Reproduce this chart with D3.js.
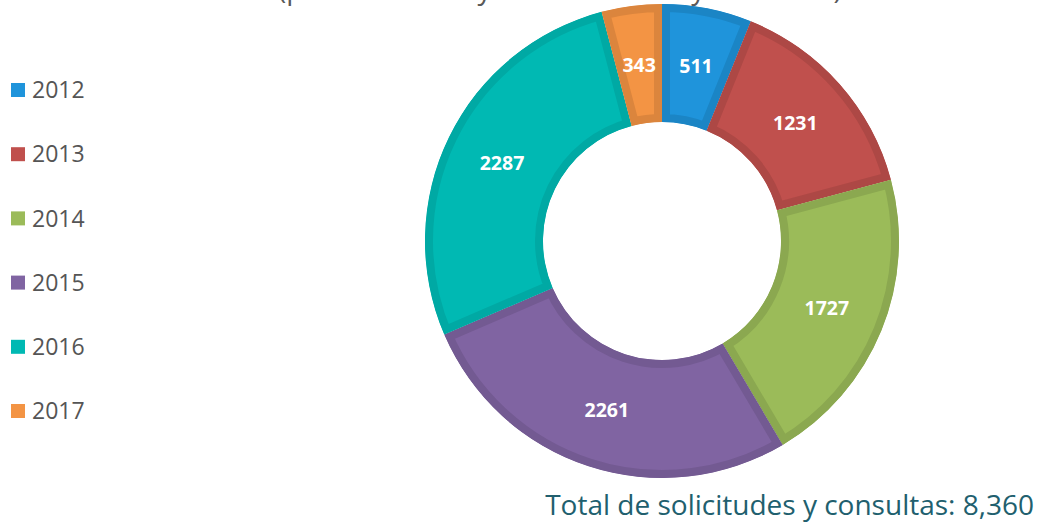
<!DOCTYPE html>
<html>
<head>
<meta charset="utf-8">
<script src="https://cdn.jsdelivr.net/npm/d3@7"></script>
<style>
  body { margin: 0; background: #fff; }
  svg { display: block; font-family: "Open Sans", "Noto Sans", sans-serif; }
</style>
</head>
<body>
<svg id="chart" width="1042" height="526"></svg>
<script>
// datos del grafico
var years = ['2012', '2013', '2014', '2015', '2016', '2017'];
var values = [511, 1231, 1727, 2261, 2287, 343];
var fills = ['#1F94DB', '#C0504D', '#9BBB59', '#8064A2', '#00B9B3', '#F39444'];
var edges = ['#1B85C5', '#AD4845', '#8BA850', '#735A92', '#00A9A4', '#DB853D'];
var title = '(período de mayo de 2012 a mayo de 2017)';
var totalLabel = 'Total de solicitudes y consultas: 8,360';

var svg = d3.select('#chart');
var cx = 662, cy = 241;
var outerR = 237, innerR = 119;

// titulo cortado arriba, como en el original
svg.append('text')
    .attr('x', 560)
    .attr('y', -1)
    .attr('text-anchor', 'middle')
    .style('font-size', '28px')
    .style('fill', '#595959')
    .text(title);

var pie = d3.pie().sort(null).value(function (d) { return d.value; });
var arc = d3.arc().innerRadius(innerR).outerRadius(outerR);

var data = years.map(function (y, i) {
    return { year: y, value: values[i], fill: fills[i], edge: edges[i] };
});
var arcs = pie(data);

var defs = svg.append('defs');
defs.selectAll('clipPath')
    .data(arcs)
    .enter().append('clipPath')
    .attr('id', function (d, i) { return 'clip' + i; })
    .append('path')
    .attr('d', arc);

var g = svg.append('g').attr('transform', 'translate(' + cx + ',' + cy + ')');

g.selectAll('path.slice')
    .data(arcs)
    .enter().append('path')
    .attr('class', 'slice')
    .attr('d', arc)
    .attr('clip-path', function (d, i) { return 'url(#clip' + i + ')'; })
    .style('fill', function (d) { return d.data.fill; })
    .style('stroke', function (d) { return d.data.edge; })
    .style('stroke-width', 16)
    .style('stroke-linejoin', 'miter');

g.selectAll('text.val')
    .data(arcs)
    .enter().append('text')
    .attr('class', 'val')
    .attr('transform', function (d) { return 'translate(' + arc.centroid(d) + ')'; })
    .attr('text-anchor', 'middle')
    .attr('dy', '0.36em')
    .style('font-size', '19.5px')
    .style('font-weight', 'bold')
    .style('fill', '#fff')
    .text(function (d) { return d.data.value; });

// leyenda
var legend = svg.append('g').attr('transform', 'translate(11,90)');
var rows = legend.selectAll('g')
    .data(years)
    .enter().append('g')
    .attr('transform', function (d, i) { return 'translate(0,' + (i * 64.2) + ')'; });

rows.append('rect')
    .attr('x', 0)
    .attr('y', -7)
    .attr('width', 14)
    .attr('height', 14)
    .style('fill', function (d, i) { return fills[i]; });

rows.append('text')
    .attr('x', 21)
    .attr('dy', '0.36em')
    .style('font-size', '23px')
    .style('fill', '#555')
    .text(function (d) { return d; });

svg.append('text')
    .attr('x', 1034)
    .attr('y', 515)
    .attr('text-anchor', 'end')
    .style('font-size', '28px')
    .style('fill', '#215F6E')
    .text(totalLabel);
</script>
</body>
</html>
